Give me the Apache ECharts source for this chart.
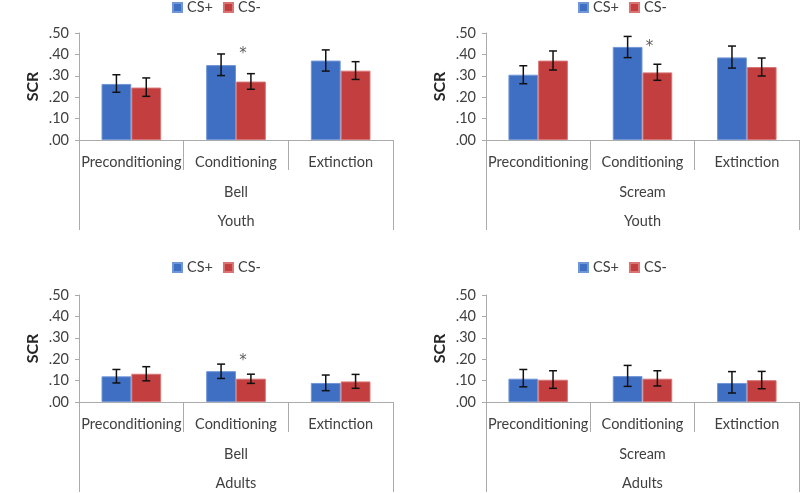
<!DOCTYPE html>
<html>
<head>
<meta charset="utf-8">
<script src="https://cdn.jsdelivr.net/npm/echarts@6/dist/echarts.min.js"></script>
<style>html,body{margin:0;padding:0;background:#fff;}#c{width:800px;height:493px;}</style>
</head>
<body>
<div id="c"></div>
<script>
// ---- data ----
const categories = ['Preconditioning', 'Conditioning', 'Extinction'];
const stimulusLabels = ['Bell', 'Scream', 'Bell', 'Scream'];
const groupLabels = ['Youth', 'Youth', 'Adults', 'Adults'];
const seriesNames = ['CS+', 'CS-'];
const yTicks = [0, 0.1, 0.2, 0.3, 0.4, 0.5];

const youthBellPlus = [0.262, 0.350, 0.371];
const youthBellPlusLo = [0.223, 0.301, 0.322];
const youthBellPlusHi = [0.305, 0.402, 0.421];
const youthBellMinus = [0.245, 0.273, 0.324];
const youthBellMinusLo = [0.204, 0.237, 0.283];
const youthBellMinusHi = [0.290, 0.310, 0.366];

const youthScreamPlus = [0.305, 0.435, 0.386];
const youthScreamPlusLo = [0.263, 0.385, 0.336];
const youthScreamPlusHi = [0.347, 0.484, 0.439];
const youthScreamMinus = [0.371, 0.316, 0.341];
const youthScreamMinusLo = [0.327, 0.279, 0.299];
const youthScreamMinusHi = [0.416, 0.354, 0.383];

const adultBellPlus = [0.120, 0.144, 0.089];
const adultBellPlusLo = [0.089, 0.110, 0.053];
const adultBellPlusHi = [0.152, 0.177, 0.126];
const adultBellMinus = [0.132, 0.109, 0.096];
const adultBellMinusLo = [0.099, 0.087, 0.064];
const adultBellMinusHi = [0.165, 0.130, 0.129];

const adultScreamPlus = [0.109, 0.121, 0.089];
const adultScreamPlusLo = [0.071, 0.073, 0.042];
const adultScreamPlusHi = [0.152, 0.171, 0.142];
const adultScreamMinus = [0.104, 0.109, 0.102];
const adultScreamMinusLo = [0.064, 0.075, 0.062];
const adultScreamMinusHi = [0.146, 0.146, 0.143];

// significance marker (asterisk) level on Conditioning, null = none
const sigCategory = 'Conditioning';
const sigLevel = [0.416, 0.449, 0.207, null];

// ---- layout / style ----
const panels = [
  { plus: youthBellPlus, plusLo: youthBellPlusLo, plusHi: youthBellPlusHi, minus: youthBellMinus, minusLo: youthBellMinusLo, minusHi: youthBellMinusHi },
  { plus: youthScreamPlus, plusLo: youthScreamPlusLo, plusHi: youthScreamPlusHi, minus: youthScreamMinus, minusLo: youthScreamMinusLo, minusHi: youthScreamMinusHi },
  { plus: adultBellPlus, plusLo: adultBellPlusLo, plusHi: adultBellPlusHi, minus: adultBellMinus, minusLo: adultBellMinusLo, minusHi: adultBellMinusHi },
  { plus: adultScreamPlus, plusLo: adultScreamPlusLo, plusHi: adultScreamPlusHi, minus: adultScreamMinus, minusLo: adultScreamMinusLo, minusHi: adultScreamMinusHi }
];
const gridPos = [
  { left: 79, top: 33, width: 314, height: 107, legendLeft: 172, legendTop: 0 },
  { left: 486, top: 33, width: 313, height: 107, legendLeft: 578, legendTop: 0 },
  { left: 79, top: 295, width: 314, height: 107, legendLeft: 172, legendTop: 260 },
  { left: 486, top: 295, width: 313, height: 107, legendLeft: 578, legendTop: 260 }
];
const colors = ['#3f6fc3', '#c33f3f'];
const borders = ['#7096d6', '#d87474'];
const FONT = 'Lato';
const FS = 14.5;
const gapPct = 0.43;
const axisColor = '#ababab';
const textColor = '#404040';

const option = {
  animation: false,
  backgroundColor: '#ffffff',
  color: colors,
  textStyle: { fontFamily: FONT },
  legend: [], grid: [], xAxis: [], yAxis: [], series: []
};

function errRender(side) {
  return function (params, api) {
    const idx = api.value(0);
    const lo = api.coord([idx, api.value(1)]);
    const hi = api.coord([idx, api.value(2)]);
    const band = api.size([1, 0])[0];
    const bw = band * (1 - gapPct) / 2;
    const x = lo[0] + side * bw / 2;
    const cap = 4;
    const st = { stroke: '#111', lineWidth: 1.5 };
    return {
      type: 'group',
      children: [
        { type: 'line', shape: { x1: x, y1: lo[1], x2: x, y2: hi[1] }, style: st },
        { type: 'line', shape: { x1: x - cap, y1: lo[1], x2: x + cap, y2: lo[1] }, style: st },
        { type: 'line', shape: { x1: x - cap, y1: hi[1], x2: x + cap, y2: hi[1] }, style: st }
      ]
    };
  };
}

panels.forEach((p, i) => {
  const g = gridPos[i];
  option.grid.push({ left: g.left, top: g.top, width: g.width, height: g.height, outerBoundsMode: 'none', containLabel: false });
  option.legend.push({
    left: g.legendLeft, top: g.legendTop, padding: 0, itemWidth: 9, itemHeight: 9, itemGap: 10, icon: 'rect',
    data: seriesNames, textStyle: { fontFamily: FONT, fontSize: FS, color: textColor }
  });
  const xi = option.xAxis.length;
  // level 1: phases
  option.xAxis.push({
    type: 'category', gridIndex: i, data: categories, position: 'bottom',
    axisLine: { show: true, onZero: false, lineStyle: { color: axisColor, width: 1 } },
    axisTick: { show: true, alignWithLabel: false, interval: 0, length: 30, lineStyle: { color: axisColor } },
    axisLabel: { fontFamily: FONT, fontSize: FS, color: textColor, margin: 15, interval: 0 }
  });
  // level 2: stimulus
  option.xAxis.push({
    type: 'category', gridIndex: i, data: [stimulusLabels[i]], position: 'bottom',
    axisLine: { show: false, onZero: false },
    axisTick: { show: true, interval: 0, length: 90, lineStyle: { color: axisColor } },
    axisLabel: { fontFamily: FONT, fontSize: FS, color: textColor, margin: 45 }
  });
  // level 3: group
  option.xAxis.push({
    type: 'category', gridIndex: i, data: [groupLabels[i]], position: 'bottom',
    axisLine: { show: false, onZero: false }, axisTick: { show: false },
    axisLabel: { fontFamily: FONT, fontSize: FS, color: textColor, margin: 74 }
  });
  option.yAxis.push({
    type: 'value', gridIndex: i, min: yTicks[0], max: yTicks[yTicks.length - 1], interval: 0.1,
    position: 'left',
    name: 'SCR', nameLocation: 'middle', nameGap: 38,
    nameTextStyle: { fontFamily: FONT, fontSize: 16, fontWeight: 'bold', color: '#262626' },
    axisLine: { show: true, onZero: false, lineStyle: { color: axisColor, width: 1 } },
    axisTick: { show: true, length: 4, lineStyle: { color: axisColor } },
    splitLine: { show: false },
    axisLabel: { fontFamily: FONT, fontSize: FS, color: textColor, margin: 10,
      formatter: v => v.toFixed(2).replace(/^0/, '') }
  });
  const sets = [[p.plus, p.plusLo, p.plusHi], [p.minus, p.minusLo, p.minusHi]];
  sets.forEach((s, k) => {
    option.series.push({
      type: 'bar', name: seriesNames[k], xAxisIndex: xi, yAxisIndex: i,
      data: s[0], barGap: '0%', barCategoryGap: (gapPct * 100) + '%',
      itemStyle: { color: colors[k], borderColor: borders[k], borderWidth: 1 }
    });
  });
  sets.forEach((s, k) => {
    option.series.push({
      type: 'custom', name: seriesNames[k] + ' err', xAxisIndex: xi, yAxisIndex: i,
      renderItem: errRender(k === 0 ? -1 : 1),
      data: categories.map((c, j) => [j, s[1][j], s[2][j]]),
      z: 5
    });
  });
  if (sigLevel[i] !== null) {
    option.series.push({
      type: 'scatter', name: 'sig', xAxisIndex: xi, yAxisIndex: i,
      symbolSize: 0,
      data: [[sigCategory, sigLevel[i]]],
      label: { show: true, position: 'inside', formatter: '*', fontFamily: 'DejaVu Sans', fontSize: 15, color: '#333', offset: [7, 3] },
      z: 6
    });
  }
});

const chart = echarts.init(document.getElementById('c'), null, { renderer: 'canvas' });
chart.setOption(option);
</script>
</body>
</html>
